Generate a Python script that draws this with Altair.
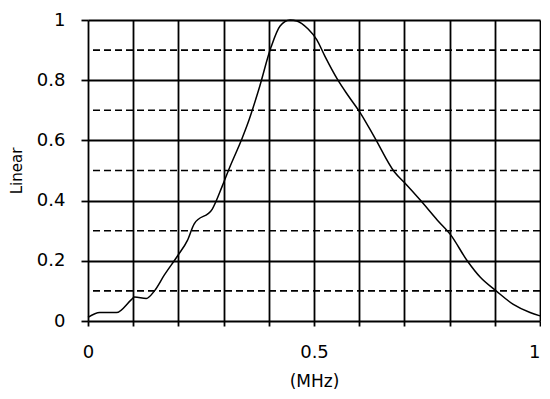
import altair as alt
import pandas as pd

freq_mhz = [0.0, 0.026, 0.063, 0.096, 0.103, 0.129, 0.147, 0.169, 0.198, 0.22,
            0.235, 0.275, 0.297, 0.312, 0.341, 0.352, 0.378, 0.405, 0.425, 0.447,
            0.462, 0.487, 0.506, 0.524, 0.553, 0.575, 0.603, 0.634, 0.678, 0.7,
            0.736, 0.773, 0.802, 0.839, 0.868, 0.903, 0.941, 0.978, 1.0]
linear = [0.012, 0.028, 0.028, 0.071, 0.08, 0.075, 0.1, 0.153, 0.216, 0.268,
          0.323, 0.372, 0.448, 0.505, 0.607, 0.65, 0.77, 0.91, 0.98, 1.0,
          0.997, 0.97, 0.935, 0.88, 0.80, 0.75, 0.69, 0.61, 0.495, 0.46,
          0.40, 0.335, 0.287, 0.2, 0.145, 0.1, 0.055, 0.028, 0.017]

x_ticks = [0, 0.1, 0.2, 0.3, 0.4, 0.5, 0.6, 0.7, 0.8, 0.9, 1]
y_ticks = [0, 0.2, 0.4, 0.6, 0.8, 1]
dashed_levels = [0.1, 0.3, 0.5, 0.7, 0.9]

W, H = 452, 301
FONT = "DejaVu Sans"

curve_df = pd.DataFrame({"f": freq_mhz, "v": linear})
dash_df = pd.DataFrame({"v": dashed_levels})

x_scale = alt.Scale(domain=[0, 1], nice=False, zero=False)
y_scale = alt.Scale(domain=[0, 1], nice=False, zero=False)

x_axis = alt.Axis(
    values=x_ticks, format="~g",
    labelExpr="abs(datum.value*2 - round(datum.value*2)) < 1e-6 ? datum.label : ''",
    labelAlign={"condition": {"test": "datum.value >= 0.99", "value": "right"},
                "value": "center"},
    grid=True, gridColor="black", gridWidth=1.8, gridOpacity=1,
    domain=False, ticks=True, tickSize=5, tickColor="black", tickWidth=1.8,
    labelFont=FONT, labelFontSize=18, labelColor="black", labelPadding=17,
    labelFlush=False, labelOverlap=False,
    title="(MHz)", titleFont=FONT, titleFontSize=17, titleFontWeight="normal",
    titleColor="black", titleX=W / 2, titleY=60, titleBaseline="middle",
    titleAlign="center",
)
y_axis = alt.Axis(
    values=y_ticks, format="~g",
    grid=True, gridColor="black", gridWidth=1.8, gridOpacity=1,
    domain=False, ticks=True, tickSize=7, tickColor="black", tickWidth=1.8,
    labelFont=FONT, labelFontSize=18, labelColor="black", labelPadding=16,
    labelFlush=False, labelOverlap=False,
    title="Linear", titleFont=FONT, titleFontSize=15, titleFontWeight="normal",
    titleColor="black", titleX=-72, titleY=H / 2, titleBaseline="middle",
    titleAlign="center", titleAngle=270,
)

dashes = alt.Chart(dash_df).mark_rule(
    color="black", strokeWidth=1.6, strokeDash=[7, 4]
).encode(y=alt.Y("v:Q", scale=y_scale, axis=y_axis))

line = alt.Chart(curve_df).mark_line(
    color="black", strokeWidth=1.5, interpolate="monotone"
).encode(
    x=alt.X("f:Q", scale=x_scale, axis=x_axis),
    y=alt.Y("v:Q", scale=y_scale, axis=y_axis),
)

chart = alt.layer(line, dashes).properties(
    width=W, height=H,
    autosize=alt.AutoSizeParams(type="none"),
    padding={"left": 80, "top": 12, "right": 1, "bottom": 68},
    background="white",
).configure_view(stroke=None)

chart.save("out.html", embed_options={"renderer": "svg", "actions": False})
